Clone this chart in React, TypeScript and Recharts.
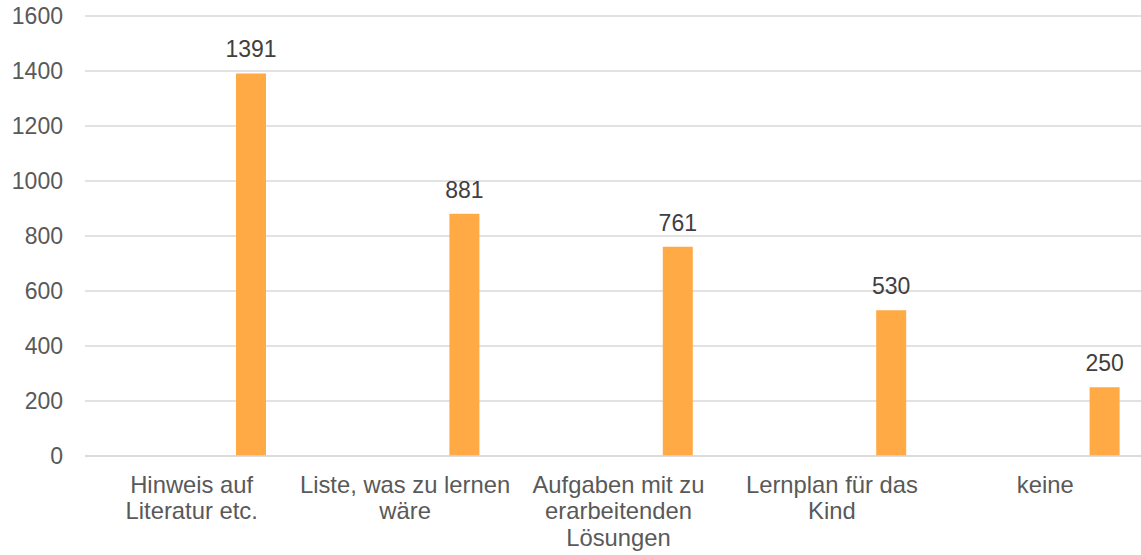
import { BarChart, Bar, XAxis, YAxis, CartesianGrid, LabelList } from "recharts";

const categories = [
  "Hinweis auf Literatur etc.",
  "Liste, was zu lernen wäre",
  "Aufgaben mit zu erarbeitenden Lösungen",
  "Lernplan für das Kind",
  "keine",
];

// erste Reihe ist leer (daher sitzen die Balken rechts von der Mitte)
const emptySeries = [null, null, null, null, null];
const counts = [1391, 881, 761, 530, 250];

const yTicks = [0, 200, 400, 600, 800, 1000, 1200, 1400, 1600];

const FONT = "'Liberation Sans', Arial, sans-serif";
const CAT_SIZE = 23.8;
const NUM_SIZE = 23;
const WRAP_WIDTH = 213;

const data = categories.map((name, i) => ({
  name,
  leer: emptySeries[i],
  anzahl: counts[i],
}));

let ctx: CanvasRenderingContext2D | null = null;
const measure = (s: string) => {
  if (!ctx) {
    ctx = document.createElement("canvas").getContext("2d");
    if (ctx) ctx.font = `${CAT_SIZE}px ${FONT}`;
  }
  return ctx ? ctx.measureText(s).width : s.length * CAT_SIZE * 0.5;
};

const wrap = (text: string) => {
  const lines: string[] = [];
  let cur = "";
  text.split(" ").forEach((w) => {
    const next = cur ? cur + " " + w : w;
    if (cur && measure(next) > WRAP_WIDTH) {
      lines.push(cur);
      cur = w;
    } else {
      cur = next;
    }
  });
  if (cur) lines.push(cur);
  return lines;
};

const CategoryTick = ({ x, y, payload }: any) => (
  <text
    x={x}
    y={y}
    textAnchor="middle"
    fontSize={CAT_SIZE}
    fontFamily={FONT}
    fill="#595959"
  >
    {wrap(payload.value).map((line, i) => (
      <tspan key={i} x={x} dy={i === 0 ? 16 : 26.3}>
        {line}
      </tspan>
    ))}
  </text>
);

export default function App() {
  return (
    <div
      style={{
        position: "absolute",
        left: 0,
        top: 0,
        width: 1141,
        height: 555,
        overflow: "hidden",
        background: "#fff",
      }}
    >
      <BarChart
        width={1152}
        height={555}
        data={data}
        margin={{ top: 16, right: 0, bottom: 0, left: 0 }}
        barGap={88}
      >
        <CartesianGrid vertical={false} stroke="#d9d9d9" strokeWidth={1.5} />
        <XAxis
          dataKey="name"
          height={99}
          tickSize={0}
          tickMargin={21}
          axisLine={{ stroke: "#d9d9d9", strokeWidth: 1.5 }}
          tickLine={false}
          interval={0}
          tick={<CategoryTick />}
        />
        <YAxis
          width={85}
          domain={[0, 1600]}
          ticks={yTicks}
          tickSize={0}
          tickMargin={22}
          axisLine={false}
          tickLine={false}
          tick={{ fill: "#595959", fontSize: NUM_SIZE, fontFamily: FONT }}
        />
        <Bar dataKey="leer" barSize={30} fill="#4472c4" isAnimationActive={false} />
        <Bar dataKey="anzahl" barSize={30} fill="#ffaa45" isAnimationActive={false}>
          <LabelList
            dataKey="anzahl"
            position="top"
            offset={16}
            fill="#404040"
            fontSize={NUM_SIZE}
            fontFamily={FONT}
          />
        </Bar>
      </BarChart>
    </div>
  );
}
